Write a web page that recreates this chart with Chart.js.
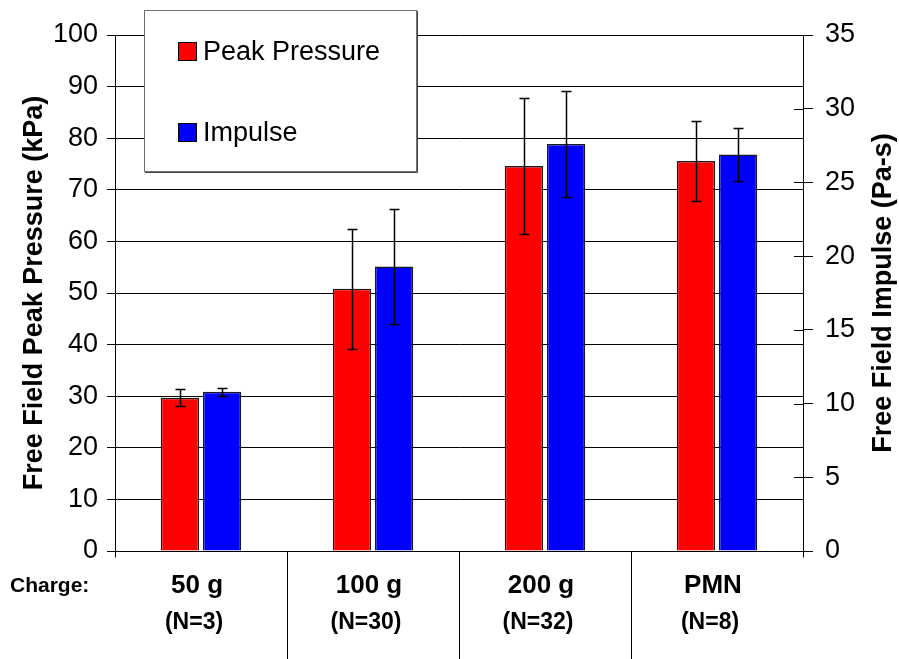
<!DOCTYPE html>
<html>
<head>
<meta charset="utf-8">
<script src="https://cdn.jsdelivr.net/npm/chart.js@4/dist/chart.umd.min.js"></script>
<style>
html,body{margin:0;padding:0;background:#fff;}
#wrap{width:899px;height:659px;position:relative;}
</style>
</head>
<body>
<div id="wrap"><canvas id="c" width="899" height="659"></canvas></div>
<script>
const categories = ["50 g", "100 g", "200 g", "PMN"];
const sampleSizes = ["(N=3)", "(N=30)", "(N=32)", "(N=8)"];
const pressure = [29.7, 50.8, 74.6, 75.6];
const pressureErr = [1.6, 11.6, 13.1, 7.7];
const impulse = [10.8, 19.3, 27.6, 26.9];
const impulseErr = [0.26, 3.9, 3.6, 1.8];
const pressureTicks = [0, 10, 20, 30, 40, 50, 60, 70, 80, 90, 100];
const impulseTicks = [0, 5, 10, 15, 20, 25, 30, 35];

const FONT = "'Liberation Sans', Arial, sans-serif";

const errPlugin = {
  id: 'errbars',
  afterDatasetsDraw(chart) {
    const ctx = chart.ctx;
    const errs = [pressureErr, impulseErr];
    ctx.save();
    ctx.strokeStyle = '#000';
    ctx.lineWidth = 1.5;
    chart.data.datasets.forEach((ds, di) => {
      const meta = chart.getDatasetMeta(di);
      const sc = chart.scales[ds.yAxisID];
      meta.data.forEach((bar, i) => {
        const v = ds.data[i], e = errs[di][i];
        const yt = Math.round(sc.getPixelForValue(v + e)) + 0.5;
        const yb = Math.round(sc.getPixelForValue(v - e)) + 0.5;
        const x = Math.round(bar.x) + 0.5;
        ctx.beginPath();
        ctx.moveTo(x, yt); ctx.lineTo(x, yb);
        ctx.moveTo(x - 5, yt); ctx.lineTo(x + 5, yt);
        ctx.moveTo(x - 5, yb); ctx.lineTo(x + 5, yb);
        ctx.stroke();
      });
    });
    ctx.restore();
  }
};

const decoPlugin = {
  id: 'deco',
  afterDraw(chart) {
    const ctx = chart.ctx;
    const ca = chart.chartArea;
    const xs = chart.scales.x;
    const yR = chart.scales.yR;
    ctx.save();
    ctx.strokeStyle = '#000';
    ctx.lineWidth = 1;
    const yb = Math.round(ca.bottom) + 0.5;
    ctx.beginPath();
    ctx.moveTo(ca.left, yb); ctx.lineTo(ca.right + 1, yb);
    ctx.stroke();
    const n = categories.length;
    const w = (ca.right - ca.left) / n;
    ctx.beginPath();
    for (let i = 0; i <= n; i++) {
      const x = Math.round(ca.left + i * w) + 0.5;
      ctx.moveTo(x, yb);
      ctx.lineTo(x, (i === 0 || i === n) ? yb + 6 : chart.height);
    }
    ctx.stroke();
    ctx.beginPath();
    yR.ticks.forEach(t => {
      const y = Math.round(yR.getPixelForValue(t.value)) + 0.5;
      ctx.moveTo(ca.right - 9, y); ctx.lineTo(ca.right, y);
    });
    ctx.stroke();
    ctx.fillStyle = '#000';
    ctx.textAlign = 'center';
    ctx.textBaseline = 'alphabetic';
    categories.forEach((c, i) => {
      const x = xs.getPixelForValue(i) - 4;
      ctx.font = "bold 26px " + FONT;
      ctx.fillText(c, x, 593);
      ctx.font = "bold 23px " + FONT;
      ctx.fillText(sampleSizes[i], x - 3, 629);
    });
    ctx.textAlign = 'left';
    ctx.font = "bold 21px " + FONT;
    ctx.fillText("Charge:", 10, 592);
    ctx.save();
    ctx.translate(884, (ca.top + ca.bottom) / 2);
    ctx.rotate(-Math.PI / 2);
    ctx.textAlign = 'center';
    ctx.textBaseline = 'middle';
    ctx.font = "bold 27px " + FONT;
    ctx.fillText("Free Field Impulse (Pa-s)", 0, 0);
    ctx.restore();
    ctx.fillStyle = '#fff';
    ctx.fillRect(144.5, 10.5, 272, 161);
    ctx.strokeStyle = '#707070';
    ctx.lineWidth = 1;
    ctx.strokeRect(144.5, 10.5, 272, 161);
    ctx.strokeStyle = '#444';
    ctx.beginPath();
    ctx.moveTo(145, 172.5); ctx.lineTo(417.5, 172.5); ctx.lineTo(417.5, 11);
    ctx.stroke();
    const items = [[0, 52], [1, 133]];
    items.forEach(([di, cy]) => {
      const ds = chart.data.datasets[di];
      ctx.fillStyle = ds.backgroundColor;
      ctx.fillRect(178.5, cy - 9.5, 18, 18);
      ctx.strokeStyle = '#000';
      ctx.strokeRect(178.5, cy - 9.5, 18, 18);
      ctx.fillStyle = '#000';
      ctx.font = "27px " + FONT;
      ctx.textAlign = 'left';
      ctx.textBaseline = 'middle';
      ctx.fillText(ds.label, 203, cy + 1);
    });
    ctx.restore();
  }
};

new Chart(document.getElementById('c'), {
  type: 'bar',
  data: {
    labels: categories,
    datasets: [
      { label: 'Peak Pressure', data: pressure, yAxisID: 'yL', backgroundColor: '#FF0000', borderColor: '#1a1a1a', borderWidth: 1.5 },
      { label: 'Impulse', data: impulse, yAxisID: 'yR', backgroundColor: '#0000FF', borderColor: '#1a1a1a', borderWidth: 1.5 }
    ]
  },
  options: {
    responsive: false,
    animation: false,
    devicePixelRatio: 1,
    layout: { padding: { top: 35, bottom: 108, left: 0, right: 0 } },
    datasets: { bar: { categoryPercentage: 0.49, barPercentage: 0.91 } },
    plugins: { legend: { display: false }, tooltip: { enabled: false } },
    scales: {
      x: { display: false, offset: true },
      yL: {
        position: 'left', min: 0, max: 100,
        afterBuildTicks: s => { s.ticks = pressureTicks.map(v => ({ value: v })); },
        afterFit: s => { s.width = 115; },
        ticks: { color: '#000', font: { family: FONT, size: 27 }, padding: 9 },
        grid: { color: '#000', lineWidth: 1, tickLength: 8, drawOnChartArea: true },
        border: { display: true, color: '#000', width: 1 },
        title: { display: true, text: 'Free Field Peak Pressure (kPa)', color: '#000', font: { family: FONT, size: 27, weight: 'bold' }, padding: { top: 18, bottom: 0 } }
      },
      yR: {
        position: 'right', min: 0, max: 35,
        afterBuildTicks: s => { s.ticks = impulseTicks.map(v => ({ value: v })); },
        afterFit: s => { s.width = 96; },
        ticks: { color: '#000', font: { family: FONT, size: 27 }, padding: 12 },
        grid: { color: '#000', lineWidth: 1, tickLength: 10, drawOnChartArea: false },
        border: { display: true, color: '#000', width: 1 }
      }
    }
  },
  plugins: [errPlugin, decoPlugin]
});
</script>
</body>
</html>
